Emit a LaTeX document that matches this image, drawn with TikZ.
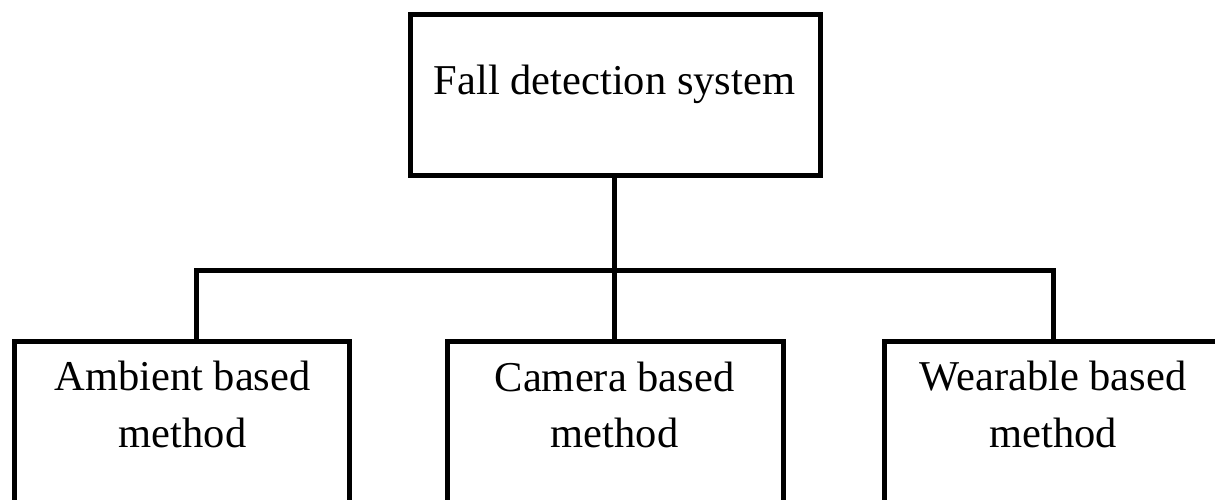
\documentclass[tikz,border=0pt]{standalone}
\usepackage{fontspec}
\setmainfont{Liberation Serif}
\begin{document}
\begin{tikzpicture}[x=1pt,y=-1pt,
  box/.style={draw=black, line width=5pt, rectangle, inner sep=0pt, line join=miter},
  wire/.style={draw=black, line width=5pt, line join=miter},
  lbl/.style={inner sep=0pt, anchor=base, font=\fontsize{42.5}{50}\selectfont}]
\useasboundingbox (0,0) rectangle (1215,500);
\clip (0,0) rectangle (1215,500);
% boxes
\node[box, minimum width=410pt, minimum height=160pt] (top) at (615,95) {};
\node[box, minimum width=335pt, minimum height=178.5pt] (b1) at (182,430.75) {};
\node[box, minimum width=336pt, minimum height=178.5pt] (b2) at (615.5,430.75) {};
\node[box, minimum width=337pt, minimum height=178.5pt] (b3) at (1053,430.75) {};
% labels
\node[lbl] (t0) at (614.5,95) {Fall detection system};
\node[lbl] (t1a) at (182.5,390) {Ambient based};
\node[lbl] (t1b) at (182.5,447) {method};
\node[lbl] (t2a) at (614.5,391) {Camera based};
\node[lbl] (t2b) at (614.5,447) {method};
\node[lbl] (t3a) at (1053,390) {Wearable based};
\node[lbl] (t3b) at (1053,447) {method};
% connectors
\coordinate (hub) at (614,270);
\coordinate (e1) at (196,341.5);
\coordinate (e2) at (614,341.5);
\coordinate (e3) at (1053,341.5);
\draw[wire] (top.south -| hub) -- (hub);
\draw[wire] (e1) |- (hub) -| (e3);
\draw[wire] (hub) -- (e2);
\end{tikzpicture}
\end{document}
